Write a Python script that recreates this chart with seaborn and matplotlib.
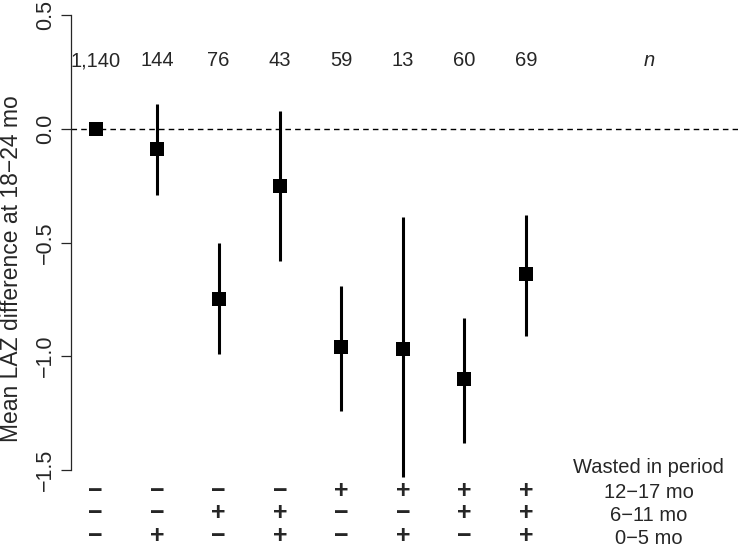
import matplotlib
matplotlib.use("Agg")
import matplotlib.pyplot as plt
import seaborn as sns
import pandas as pd

# ---------------- data ----------------
groups = [1, 2, 3, 4, 5, 6, 7, 8]
mean_diff = [0.0, -0.09, -0.75, -0.25, -0.96, -0.97, -1.10, -0.64]
ci_low = [0.0, -0.29, -0.99, -0.58, -1.24, -1.53, -1.38, -0.91]
ci_high = [0.0, 0.11, -0.50, 0.08, -0.69, -0.39, -0.83, -0.38]
n_labels = ["1,140", "144", "76", "43", "59", "13", "60", "69"]
wasted_12_17 = ["−", "−", "−", "−", "+", "+", "+", "+"]
wasted_6_11 = ["−", "−", "+", "+", "−", "−", "+", "+"]
wasted_0_5 = ["−", "+", "−", "+", "−", "+", "−", "+"]
row_names = ["12−17 mo", "6−11 mo", "0−5 mo"]

df = pd.DataFrame({"group": groups, "diff": mean_diff, "lo": ci_low, "hi": ci_high})

sns.set_style("white")
plt.rcParams["font.family"] = ["Liberation Sans", "DejaVu Sans"]

fig = plt.figure(figsize=(7.38, 5.49), dpi=100)
ax = fig.add_axes([71 / 738, 64 / 549, 1 - 71 / 738, 485 / 549])

# ---------------- points + CIs ----------------
ax.axhline(0, color="black", lw=1, ls=(0, (4, 3)), zorder=1)
ax.vlines(df["group"], df["lo"], df["hi"], color="black", lw=2.2, zorder=2)
sns.scatterplot(data=df, x="group", y="diff", marker="s", s=90, color="black",
                edgecolor="black", linewidth=0, ax=ax, zorder=3, legend=False)

ax.set_xlim(0.6, 11.45)
ax.set_ylim(-1.566, 0.566)

# ---------------- axes styling (R-like) ----------------
for side in ["top", "right", "bottom"]:
    ax.spines[side].set_visible(False)
ax.spines["left"].set_bounds(-1.5, 0.5)
ax.spines["left"].set_linewidth(0.9)
ax.set_yticks([-1.5, -1.0, -0.5, 0.0, 0.5])
ax.set_yticklabels(["−1.5", "−1.0", "−0.5", "0.0", "0.5"], rotation=90, va="center")
ax.tick_params(axis="y", direction="out", length=7, width=0.9, labelsize=15.5, pad=4, left=True)
ax.set_xticks([])
ax.set_xlabel("")
ax.set_ylabel("Mean LAZ difference at 18−24 mo", fontsize=16.5)
ax.yaxis.set_label_coords((23 - 71) / 667, 0.447)

# ---------------- n labels ----------------
for g, lab in zip(groups, n_labels):
    ax.text(g, 0.30, lab, ha="center", va="center", fontsize=14.5)
ax.text(10, 0.30, "n", ha="center", va="center", fontsize=14.5, style="italic")

# ---------------- wasting pattern table ----------------
sign_y = [-1.592, -1.689, -1.789]
name_y = [-1.601, -1.702, -1.803]
for ys, yn, row, name in zip(sign_y, name_y, [wasted_12_17, wasted_6_11, wasted_0_5], row_names):
    for g, sym in zip(groups, row):
        ax.text(g, ys, sym, ha="center", va="center", fontsize=18, fontweight="bold",
                clip_on=False)
    ax.text(10, yn, name, ha="center", va="center", fontsize=14.5, clip_on=False)
ax.text(10, -1.487, "Wasted in period", ha="center", va="center", fontsize=14.5, clip_on=False)

fig.savefig("out.png", dpi=100)
